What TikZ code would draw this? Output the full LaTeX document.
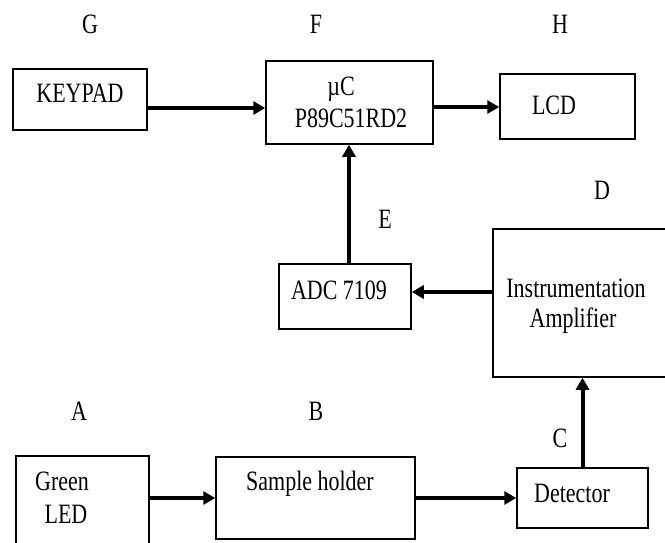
\documentclass[tikz,border=0pt]{standalone}
\usepackage{fontspec}
\setmainfont{Liberation Serif}[FakeStretch=0.785]
\usetikzlibrary{arrows.meta}
\begin{document}
\begin{tikzpicture}[x=1pt,y=-1pt,
  box/.style={draw,line width=1.5pt,inner sep=0pt},
  txt/.style={inner sep=0pt,anchor=base,font=\fontsize{28}{30}\selectfont},
  lbl/.style={inner sep=0pt,anchor=base,font=\fontsize{28}{30}\selectfont},
  conn/.style={line width=4pt,-{Triangle[length=12pt,width=13pt]}}]
\useasboundingbox[fill=white] (0,0) rectangle (665,542);
\clip (0,0) rectangle (665,542);
% labels
\node[lbl] (lG) at (90,33) {G};
\node[lbl] (lF) at (316,33) {F};
\node[lbl] (lH) at (560,33) {H};
\node[lbl] (lD) at (602,199) {D};
\node[lbl] (lE) at (385,228) {E};
\node[lbl] (lA) at (79,420) {A};
\node[lbl] (lB) at (316,420) {B};
\node[lbl] (lC) at (560,447) {C};
% boxes
\node[box,minimum width=134pt,minimum height=61pt] (key) at (80,99.5) {};
\node[box,minimum width=167pt,minimum height=83pt] (mu) at (349.5,102.5) {};
\node[box,minimum width=135pt,minimum height=65pt] (lcd) at (567.5,106.5) {};
\node[box,minimum width=132pt,minimum height=65pt] (adc) at (345,296.5) {};
\node[box,minimum width=180pt,minimum height=148pt] (ia) at (583,303) {};
\node[box,minimum width=133pt,minimum height=104pt] (led) at (82.5,508) {};
\node[box,minimum width=199pt,minimum height=82pt] (sh) at (315.5,498) {};
\node[box,minimum width=131pt,minimum height=60pt] (det) at (582.5,498) {};
% texts
\node[txt] (tkey) at (80,102) {KEYPAD};
\node[txt] (tmu1) at (341,95) {µC};
\node[txt] (tmu2) at (351,127) {P89C51RD2};
\node[txt] (tlcd) at (554,114) {LCD};
\node[txt] (tadc) at (339,299) {ADC 7109};
\node[txt] (tia1) at (576,297) {Instrumentation};
\node[txt] (tia2) at (573,327) {Amplifier};
\node[txt] (tled1) at (62,490) {Green};
\node[txt] (tled2) at (66,523) {LED};
\node[txt] (tsh) at (310,490) {Sample holder};
\node[txt] (tdet) at (572,502) {Detector};
% connectors
\draw[conn] ([yshift=-8.5pt]key.east) -- ([yshift=-8.5pt]key.east -| mu.west);
\draw[conn] ([yshift=-4.5pt]mu.east) -- ([yshift=-4.5pt]mu.east -| lcd.west);
\draw[conn] (adc.north -| 349,0) -- (mu.south -| 349,0);
\draw[conn] ([yshift=11pt]ia.west) -- ([yshift=11pt]ia.west -| adc.east);
\draw[conn] ([yshift=10pt]led.east) -- ([yshift=10pt]led.east -| sh.west);
\draw[conn] (sh.east) -- (sh.east -| det.west);
\draw[conn] (det.north) -- (det.north |- ia.south);
\end{tikzpicture}
\end{document}
